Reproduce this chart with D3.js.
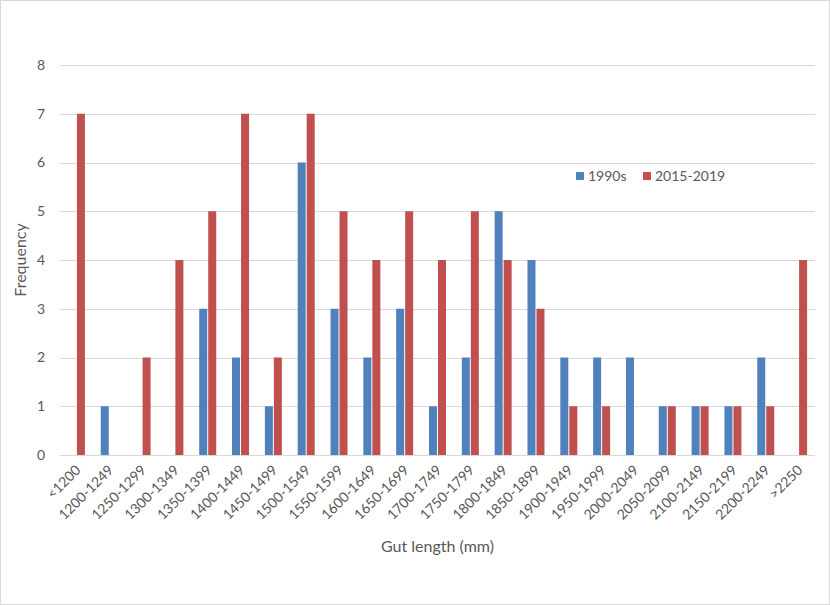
<!DOCTYPE html>
<html>
<head>
  <title>Gut length histogram</title>
  <script src="https://d3js.org/d3.v7.min.js"></script>
  <style>
    body { margin: 0; background: #fff; }
    text { font-family: Lato, "Open Sans", sans-serif; fill: #595959; }
  </style>
</head>
<body>
  <div id="chart"></div>
  <script>
    // Data
    const categories = ["<1200", "1200-1249", "1250-1299", "1300-1349", "1350-1399", "1400-1449",
      "1450-1499", "1500-1549", "1550-1599", "1600-1649", "1650-1699", "1700-1749", "1750-1799",
      "1800-1849", "1850-1899", "1900-1949", "1950-1999", "2000-2049", "2050-2099", "2100-2149",
      "2150-2199", "2200-2249", ">2250"];
    const series1990s = [0, 1, 0, 0, 3, 2, 1, 6, 3, 2, 3, 1, 2, 5, 4, 2, 2, 2, 1, 1, 1, 2, 0];
    const series2015 = [7, 0, 2, 4, 5, 7, 2, 7, 5, 4, 5, 4, 5, 4, 3, 1, 1, 0, 1, 1, 1, 1, 4];
    const seriesNames = ["1990s", "2015-2019"];
    const colors = ["#4f81bd", "#c0504d"];
    const yTicks = [0, 1, 2, 3, 4, 5, 6, 7, 8];

    const width = 830, height = 605;
    const margin = { left: 60, right: 15, top: 65, bottom: 150 };

    const svg = d3.select("#chart")
      .append("svg")
      .attr("width", width)
      .attr("height", height);

    // chart border
    svg.append("rect")
      .attr("x", 0.5).attr("y", 0.5)
      .attr("width", width - 1).attr("height", height - 1)
      .attr("fill", "#fff")
      .attr("stroke", "#d9d9d9");

    const x = d3.scaleBand()
      .domain(categories)
      .range([margin.left, width - margin.right]);

    const y = d3.scaleLinear()
      .domain([0, 8])
      .range([height - margin.bottom, margin.top]);

    // gridlines
    svg.selectAll(".grid")
      .data(yTicks)
      .enter()
      .append("line")
      .attr("class", "grid")
      .attr("x1", margin.left)
      .attr("x2", width - margin.right)
      .attr("y1", d => Math.round(y(d)) + 0.5)
      .attr("y2", d => Math.round(y(d)) + 0.5)
      .attr("stroke", "#d9d9d9")
      .attr("stroke-width", 1);

    // y tick labels
    svg.selectAll(".ylabel")
      .data(yTicks)
      .enter()
      .append("text")
      .attr("class", "ylabel")
      .attr("x", 45)
      .attr("y", d => y(d))
      .attr("dy", "0.35em")
      .attr("text-anchor", "end")
      .style("font-size", "14px")
      .text(d => d);

    const barW = 8;
    const data = categories.map((c, i) => ({ cat: c, values: [series1990s[i], series2015[i]] }));

    const groups = svg.selectAll(".cat")
      .data(data)
      .enter()
      .append("g")
      .attr("class", "cat");

    groups.selectAll("rect")
      .data(d => d.values.map((v, j) => ({ cat: d.cat, v: v, j: j })))
      .enter()
      .append("rect")
      .filter(d => d.v > 0)
      .attr("x", d => x(d.cat) + x.bandwidth() / 2 + (d.j === 0 ? -barW - 0.5 : 0.5))
      .attr("y", d => y(d.v))
      .attr("width", barW)
      .attr("height", d => y(0) - y(d.v))
      .attr("fill", d => colors[d.j]);

    // x tick labels, rotated
    svg.selectAll(".xlabel")
      .data(categories)
      .enter()
      .append("text")
      .attr("class", "xlabel")
      .attr("text-anchor", "end")
      .style("font-size", "14px")
      .attr("transform", d => `translate(${x(d) + x.bandwidth() / 2 + 5},${y(0) + 16}) rotate(-45)`)
      .text(d => d);

    // axis titles
    svg.append("text")
      .attr("x", (margin.left + width - margin.right) / 2)
      .attr("y", 552)
      .attr("text-anchor", "middle")
      .style("font-size", "16px")
      .text("Gut length (mm)");

    svg.append("text")
      .attr("transform", `translate(26,${(y(0) + y(8)) / 2}) rotate(-90)`)
      .attr("text-anchor", "middle")
      .style("font-size", "16px")
      .text("Frequency");

    // legend
    const legend = svg.append("g").attr("transform", "translate(576,176)");
    const items = legend.selectAll("g")
      .data(seriesNames)
      .enter()
      .append("g")
      .attr("transform", (d, i) => `translate(${i * 67},0)`);
    items.append("rect")
      .attr("x", 0).attr("y", -4)
      .attr("width", 8).attr("height", 8)
      .attr("fill", (d, i) => colors[i]);
    items.append("text")
      .attr("x", 12)
      .attr("y", 0)
      .attr("dy", "0.35em")
      .style("font-size", "14px")
      .text(d => d);
  </script>
</body>
</html>
